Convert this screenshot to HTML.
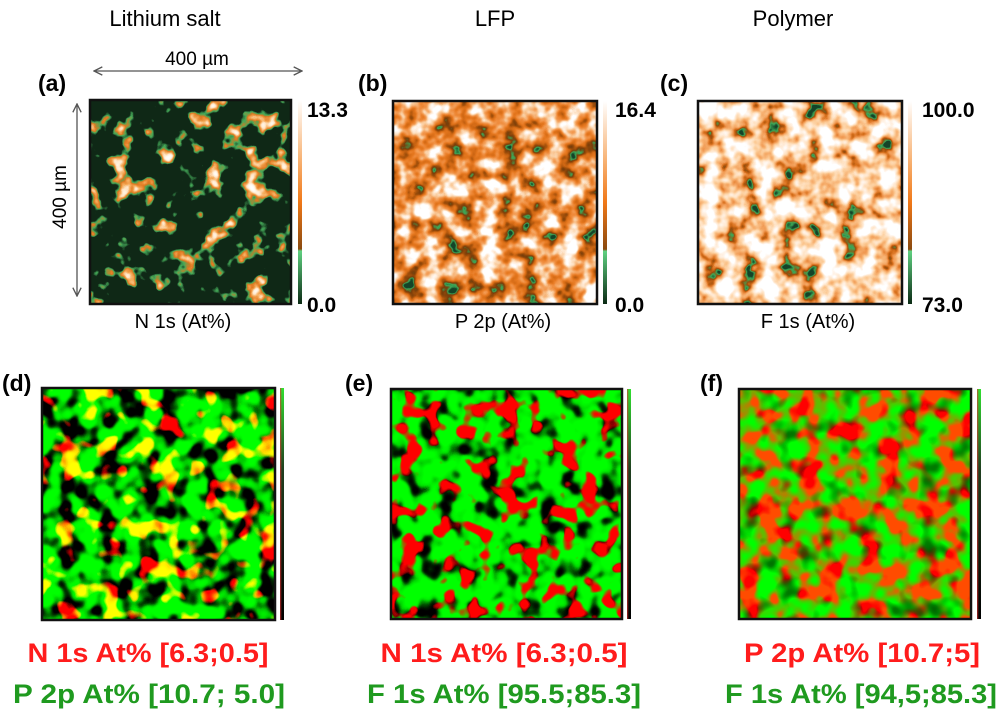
<!DOCTYPE html>
<html><head><meta charset="utf-8"><style>
html,body{margin:0;padding:0;background:#fff;}
svg{display:block;}
text{font-family:"Liberation Sans",sans-serif;}
filter{color-interpolation-filters:sRGB;}
</style></head><body>
<svg width="1000" height="712" viewBox="0 0 1000 712" xmlns="http://www.w3.org/2000/svg">
<defs>
<marker id="ah" viewBox="0 0 10 10" refX="9" refY="5" markerWidth="8" markerHeight="8" orient="auto-start-reverse"><path d="M1,1 L9,5 L1,9" fill="none" stroke="#555" stroke-width="1.3"/></marker>
<filter id="fa" color-interpolation-filters="sRGB" filterUnits="userSpaceOnUse" x="90" y="100" width="201" height="204">
<feTurbulence type="fractalNoise" baseFrequency="0.045" numOctaves="3" seed="7"/>
<feColorMatrix type="matrix" values="1 0 0 0 0 1 0 0 0 0 1 0 0 0 0 0 0 0 0 1"/>
<feComponentTransfer>
<feFuncR type="table" tableValues="0.06 0.06 0.06 0.06 0.06 0.06 0.06 0.06 0.06 0.06 0.06 0.06 0.27 0.88 0.96 1 1 1 1 1 1"/>
<feFuncG type="table" tableValues="0.16 0.16 0.16 0.16 0.16 0.16 0.16 0.16 0.16 0.16 0.16 0.16 0.67 0.47 0.67 0.9 0.98 1 1 1 1"/>
<feFuncB type="table" tableValues="0.09 0.09 0.09 0.09 0.09 0.09 0.09 0.09 0.09 0.09 0.09 0.09 0.35 0.12 0.35 0.78 0.94 1 1 1 1"/>
</feComponentTransfer>
</filter>
<filter id="fb" color-interpolation-filters="sRGB" filterUnits="userSpaceOnUse" x="393" y="101" width="204" height="203">
<feTurbulence type="fractalNoise" baseFrequency="0.05" numOctaves="3" seed="11"/>
<feColorMatrix type="matrix" values="1 0 0 0 0 1 0 0 0 0 1 0 0 0 0 0 0 0 0 1"/>
<feComponentTransfer>
<feFuncR type="table" tableValues="0.08 0.08 0.08 0.08 0.08 0.24 0.47 0.63 0.82 0.9 0.94 0.96 0.98 1 1 1 1 1 1 1 1"/>
<feFuncG type="table" tableValues="0.27 0.27 0.27 0.27 0.27 0.67 0.24 0.31 0.41 0.47 0.55 0.65 0.8 0.92 1 1 1 1 1 1 1"/>
<feFuncB type="table" tableValues="0.16 0.16 0.16 0.16 0.16 0.35 0.04 0.04 0.08 0.12 0.24 0.39 0.62 0.84 1 1 1 1 1 1 1"/>
</feComponentTransfer>
</filter>
<filter id="fc" color-interpolation-filters="sRGB" filterUnits="userSpaceOnUse" x="698" y="101" width="204" height="203">
<feTurbulence type="fractalNoise" baseFrequency="0.05" numOctaves="3" seed="23"/>
<feColorMatrix type="matrix" values="1 0 0 0 0 1 0 0 0 0 1 0 0 0 0 0 0 0 0 1"/>
<feComponentTransfer>
<feFuncR type="table" tableValues="0.08 0.08 0.08 0.08 0.08 0.24 0.59 0.84 0.94 0.97 0.99 1 1 1 1 1 1 1 1 1 1"/>
<feFuncG type="table" tableValues="0.27 0.27 0.27 0.27 0.27 0.67 0.29 0.43 0.59 0.7 0.8 0.88 0.94 1 1 1 1 1 1 1 1"/>
<feFuncB type="table" tableValues="0.16 0.16 0.16 0.16 0.16 0.35 0.04 0.1 0.31 0.45 0.6 0.75 0.88 1 1 1 1 1 1 1 1"/>
</feComponentTransfer>
</filter>
<filter id="fd" color-interpolation-filters="sRGB" filterUnits="userSpaceOnUse" x="42" y="388" width="233" height="232">
<feTurbulence type="fractalNoise" baseFrequency="0.05" numOctaves="2" seed="3" result="n1"/>
<feComponentTransfer in="n1" result="r1"><feFuncR type="table" tableValues="0 0 0 0 0 0 0 0 0 0 0 0 0.6 1 1 1 1 1 1 1 1"/><feFuncG type="linear" slope="0"/><feFuncB type="linear" slope="0"/><feFuncA type="linear" slope="0" intercept="1"/></feComponentTransfer>
<feTurbulence type="fractalNoise" baseFrequency="0.05" numOctaves="2" seed="41" result="n2"/>
<feColorMatrix in="n2" type="matrix" values="0 0 0 0 0 1 0 0 0 0 0 0 0 0 0 0 0 0 0 1" result="g0"/>
<feComponentTransfer in="g0" result="g1"><feFuncG type="table" tableValues="0 0 0 0 0 0 0 0 0.2 0.5 0.8 0.95 1 1 1 1 1 1 1 1 1"/></feComponentTransfer>
<feComposite in="r1" in2="g1" operator="arithmetic" k2="1" k3="1"/>
</filter>
<filter id="fe" color-interpolation-filters="sRGB" filterUnits="userSpaceOnUse" x="391" y="389" width="231" height="230">
<feTurbulence type="fractalNoise" baseFrequency="0.05" numOctaves="2" seed="3" result="n1"/>
<feComponentTransfer in="n1" result="r1"><feFuncR type="table" tableValues="0 0 0 0 0 0 0 0 0 0 0 0 0.6 1 1 1 1 1 1 1 1"/><feFuncG type="linear" slope="0"/><feFuncB type="linear" slope="0"/><feFuncA type="linear" slope="0" intercept="1"/></feComponentTransfer>
<feColorMatrix in="r1" type="matrix" values="0 0 0 0 0 1 0 0 0 0 0 0 0 0 0 0 0 0 0 1" result="rg"/>
<feTurbulence type="fractalNoise" baseFrequency="0.05" numOctaves="2" seed="41" result="n2"/>
<feColorMatrix in="n2" type="matrix" values="0 0 0 0 0 1 0 0 0 0 0 0 0 0 0 0 0 0 0 1" result="g0"/>
<feComponentTransfer in="g0" result="g1"><feFuncG type="table" tableValues="0 0 0 0 0 0 0.1 0.3 0.6 0.85 0.95 1 1 1 1 1 1 1 1 1 1"/></feComponentTransfer>
<feComposite in="g1" in2="rg" operator="arithmetic" k2="1" k3="-1" result="g2"/>
<feComposite in="r1" in2="g2" operator="arithmetic" k2="1" k3="1"/>
</filter>
<filter id="ff" color-interpolation-filters="sRGB" filterUnits="userSpaceOnUse" x="739" y="389" width="232" height="230">
<feTurbulence type="fractalNoise" baseFrequency="0.05" numOctaves="2" seed="3" result="n1"/>
<feComponentTransfer in="n1" result="r1"><feFuncR type="table" tableValues="0 0 0 0 0 0 0 0 0.1 0.25 0.4 0.7 1 1 1 1 1 1 1 1 1"/><feFuncG type="linear" slope="0"/><feFuncB type="linear" slope="0"/><feFuncA type="linear" slope="0" intercept="1"/></feComponentTransfer>
<feColorMatrix in="r1" type="matrix" values="0 0 0 0 0 1 0 0 0 0 0 0 0 0 0 0 0 0 0 1" result="rg"/>
<feTurbulence type="fractalNoise" baseFrequency="0.05" numOctaves="2" seed="41" result="n2"/>
<feColorMatrix in="n2" type="matrix" values="0 0 0 0 0 1 0 0 0 0 0 0 0 0 0 0 0 0 0 1" result="g0"/>
<feComponentTransfer in="g0" result="g1"><feFuncG type="table" tableValues="0.25 0.3 0.35 0.4 0.45 0.5 0.6 0.7 0.8 0.9 1 1 1 1 1 1 1 1 1 1 1"/></feComponentTransfer>
<feComposite in="g1" in2="rg" operator="arithmetic" k2="1" k3="-0.7" result="g2"/>
<feComposite in="r1" in2="g2" operator="arithmetic" k2="1" k3="1"/>
</filter>
<linearGradient id="cbo" x1="0" y1="0" x2="0" y2="1">
<stop offset="0" stop-color="#fff"/><stop offset="0.3" stop-color="#f7b070"/><stop offset="0.5" stop-color="#f07818"/><stop offset="0.73" stop-color="#8a4a10"/><stop offset="0.74" stop-color="#5fd080"/><stop offset="1" stop-color="#0b2a14"/>
</linearGradient>
<linearGradient id="cbg" x1="0" y1="0" x2="0" y2="1">
<stop offset="0" stop-color="#30e030"/><stop offset="0.35" stop-color="#204020"/><stop offset="1" stop-color="#000"/>
</linearGradient>
</defs>

<text x="165" y="26" font-size="22" text-anchor="middle">Lithium salt</text>
<text x="495" y="26" font-size="22" text-anchor="middle">LFP</text>
<text x="793" y="26" font-size="22" text-anchor="middle">Polymer</text>

<text x="197" y="65" font-size="19" text-anchor="middle">400 µm</text>
<line x1="94" y1="71" x2="302" y2="71" stroke="#555" stroke-width="1.3" marker-start="url(#ah)" marker-end="url(#ah)"/>
<line x1="77" y1="104" x2="77" y2="296" stroke="#555" stroke-width="1.3" marker-start="url(#ah)" marker-end="url(#ah)"/>
<text x="0" y="0" font-size="19" text-anchor="middle" transform="translate(66,197) rotate(-90)">400 µm</text>

<text x="38" y="91" font-size="23" font-weight="bold">(a)</text>
<text x="358" y="91" font-size="23" font-weight="bold">(b)</text>
<text x="660" y="91" font-size="23" font-weight="bold">(c)</text>
<text x="2" y="391" font-size="23" font-weight="bold">(d)</text>
<text x="345" y="391" font-size="23" font-weight="bold">(e)</text>
<text x="700" y="391" font-size="23" font-weight="bold">(f)</text>

<rect x="90" y="100" width="201" height="204" fill="#000" filter="url(#fa)"/>
<rect x="90" y="100" width="201" height="204" fill="none" stroke="#111" stroke-width="2.5"/>
<rect x="298" y="100" width="4" height="204" fill="url(#cbo)"/>
<text x="307" y="117" font-size="21" font-weight="bold">13.3</text>
<text x="307" y="312" font-size="21" font-weight="bold">0.0</text>
<text x="183" y="328" font-size="20" text-anchor="middle">N 1s (At%)</text>

<rect x="393" y="101" width="204" height="203" fill="#000" filter="url(#fb)"/>
<rect x="393" y="101" width="204" height="203" fill="none" stroke="#111" stroke-width="2.5"/>
<rect x="603" y="101" width="4" height="203" fill="url(#cbo)"/>
<text x="615" y="117" font-size="21" font-weight="bold">16.4</text>
<text x="615" y="312" font-size="21" font-weight="bold">0.0</text>
<text x="503" y="328" font-size="20" text-anchor="middle">P 2p (At%)</text>

<rect x="698" y="101" width="204" height="203" fill="#000" filter="url(#fc)"/>
<rect x="698" y="101" width="204" height="203" fill="none" stroke="#111" stroke-width="2.5"/>
<rect x="908" y="101" width="4" height="203" fill="url(#cbo)"/>
<text x="922" y="117" font-size="21" font-weight="bold">100.0</text>
<text x="922" y="312" font-size="21" font-weight="bold">73.0</text>
<text x="808" y="328" font-size="20" text-anchor="middle">F 1s (At%)</text>

<rect x="42" y="388" width="233" height="232" fill="#000" filter="url(#fd)"/>
<rect x="42" y="388" width="233" height="232" fill="none" stroke="#111" stroke-width="2.5"/>
<rect x="280" y="388" width="4" height="232" fill="url(#cbg)"/>
<rect x="280" y="388" width="1.3" height="232" fill="#e03030" opacity="0.6"/>

<rect x="391" y="389" width="231" height="230" fill="#000" filter="url(#fe)"/>
<rect x="391" y="389" width="231" height="230" fill="none" stroke="#111" stroke-width="2.5"/>
<rect x="627" y="389" width="4" height="230" fill="url(#cbg)"/>
<rect x="627" y="389" width="1.3" height="230" fill="#e03030" opacity="0.6"/>

<rect x="739" y="389" width="232" height="230" fill="#000" filter="url(#ff)"/>
<rect x="739" y="389" width="232" height="230" fill="none" stroke="#111" stroke-width="2.5"/>
<rect x="977" y="389" width="4" height="230" fill="url(#cbg)"/>
<rect x="977" y="389" width="1.3" height="230" fill="#e03030" opacity="0.6"/>

<g font-size="27" font-weight="bold" text-anchor="middle">
<text x="148" y="662" fill="#ff1c1c" textLength="241" lengthAdjust="spacingAndGlyphs">N 1s At% [6.3;0.5]</text>
<text x="149" y="703" fill="#1f9a1f" textLength="272" lengthAdjust="spacingAndGlyphs">P 2p At% [10.7; 5.0]</text>
<text x="504" y="662" fill="#ff1c1c" textLength="247" lengthAdjust="spacingAndGlyphs">N 1s At% [6.3;0.5]</text>
<text x="504" y="703" fill="#1f9a1f" textLength="274" lengthAdjust="spacingAndGlyphs">F 1s At% [95.5;85.3]</text>
<text x="862" y="662" fill="#ff1c1c" textLength="236" lengthAdjust="spacingAndGlyphs">P 2p At% [10.7;5]</text>
<text x="861" y="703" fill="#1f9a1f" textLength="272" lengthAdjust="spacingAndGlyphs">F 1s At% [94,5;85.3]</text>
</g>
</svg>
</body></html>
